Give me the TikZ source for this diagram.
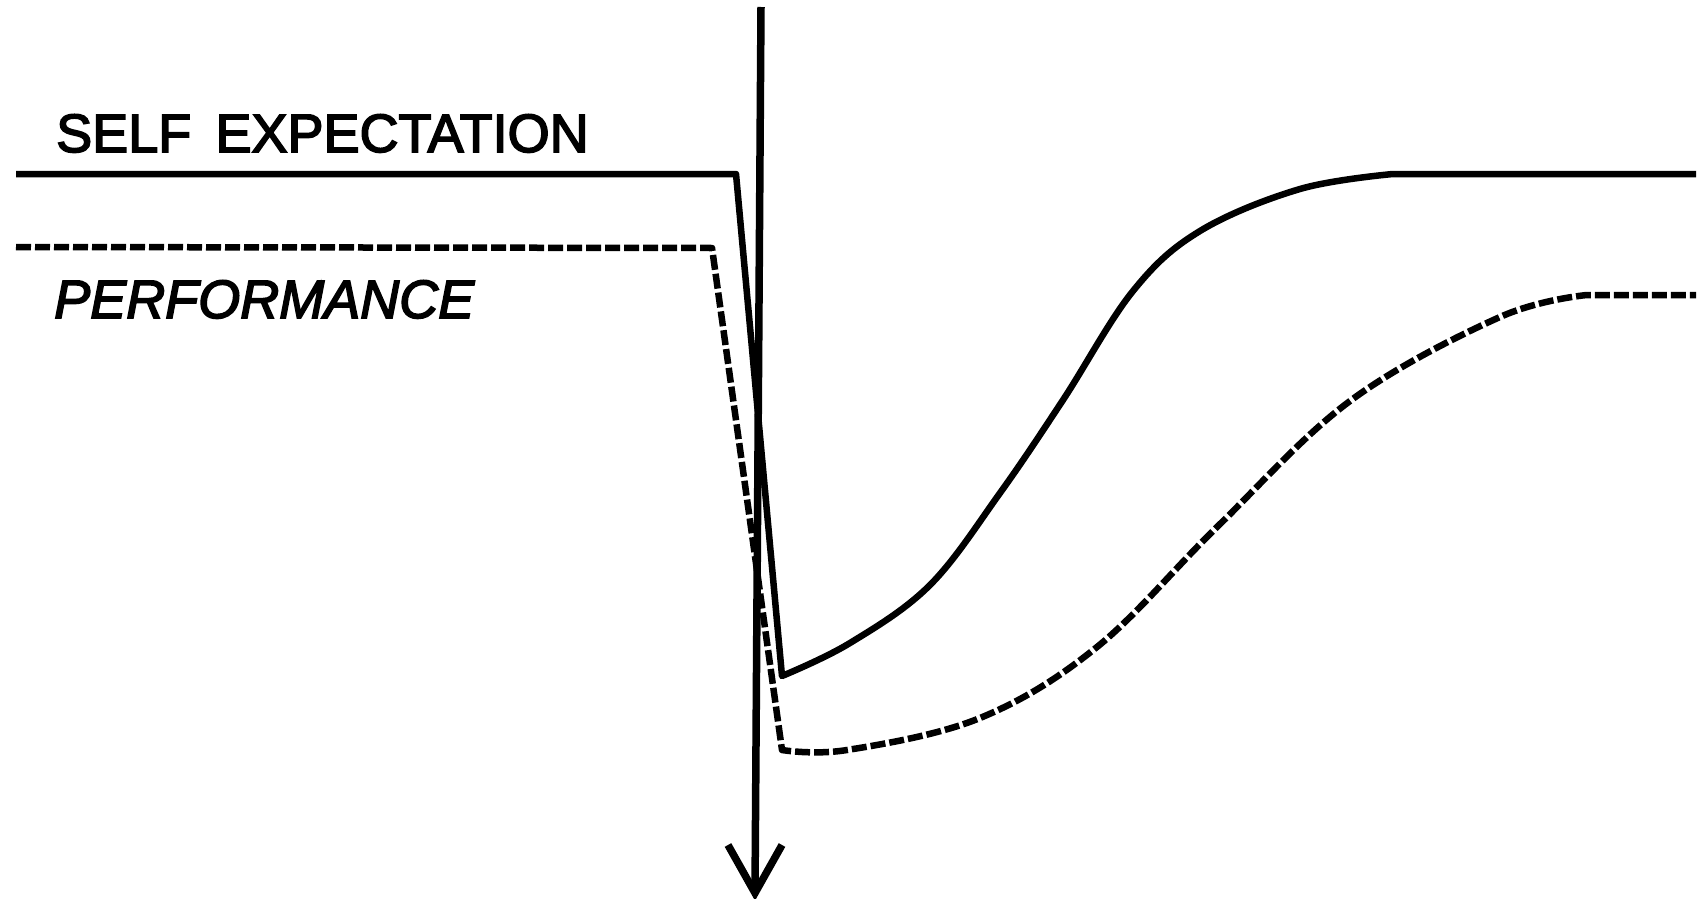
\documentclass[tikz,border=0pt]{standalone}
\usepackage{fontspec}
\newfontfamily\lblfont[FakeBold=3, ItalicFeatures={FakeBold=3}]{Liberation Sans}
\begin{document}
\begin{tikzpicture}[x=1pt,y=-1pt,
  curve/.style={line width=6.5pt, line join=round, line cap=butt},
  dashcurve/.style={curve, dash pattern=on 15pt off 4pt},
  axisline/.style={line width=7.5pt},
  lbl/.style={inner sep=0pt, anchor=base west, font=\lblfont\fontsize{54}{60}\selectfont}]
\useasboundingbox (0,0) rectangle (1701,899);
\fill[white] (0,0) rectangle (1701,899);
% labels
\node[lbl] (selfexp) at (56,152) {SELF\hspace{0.45em}EXPECTATION};
\node[lbl] (perf) at (54,318) {\itshape PERFORMANCE};
% self expectation (solid)
\draw[curve] (16,174) -- (736,174) -- plot[smooth, tension=0.6] coordinates {
  (782,676) (850,643) (930,585) (1000,493) (1063,400) (1133,291)
  (1200,231) (1300,189) (1393,174)} -- (1696,174);
% performance (dashed)
\draw[dashcurve] (16,247) -- (712,248) -- plot[smooth, tension=0.6] coordinates {
  (782,750) (847,750) (980,718) (1097,647) (1217,527) (1350,401)
  (1500,317) (1587,295)} -- (1696,295);
% vertical arrow
\coordinate (top) at (761,7);
\coordinate (tip) at (755,893);
\coordinate (wl) at (728,845);
\coordinate (wr) at (782,845);
\draw[axisline] (top) -- (tip);
\draw[axisline, line join=miter] (wl) -- (tip) -- (wr);
\end{tikzpicture}
\end{document}
